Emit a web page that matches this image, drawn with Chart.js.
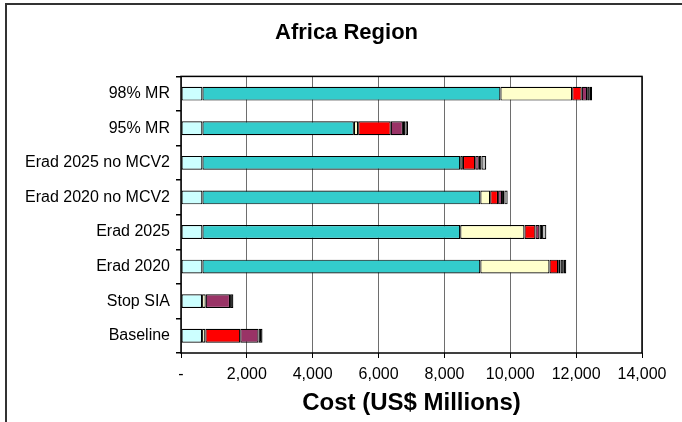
<!DOCTYPE html>
<html>
<head>
<meta charset="utf-8">
<script src="https://cdn.jsdelivr.net/npm/chart.js@4"></script>
<style>
  body { margin: 0; background: #fff; }
  canvas { display: block; }
</style>
</head>
<body>
<canvas id="chart" width="682" height="422"></canvas>
<script>
// Scénarios (de haut en bas)
const scenarios = ['98% MR', '95% MR', 'Erad 2025 no MCV2', 'Erad 2020 no MCV2', 'Erad 2025', 'Erad 2020', 'Stop SIA', 'Baseline'];

// Coûts par composante (US$ millions)
const costCyan   = [650, 650, 650, 650, 650, 650, 640, 640];
const costTeal   = [9050, 4600, 7830, 8440, 7830, 8440, null, null];
const costYellow = [2180, 130, 80, 300, 1950, 2100, 110, 100];
const costRed    = [290, 990, 375, 240, 335, 265, null, 1060];
const costPurple = [165, 370, 110, 120, 120, 70, 740, 555];
const costBlack  = [80, 75, 80, 70, 80, 100, 100, 120];
const costGrey   = [70, 80, 145, 100, 130, 75, null, null];

const xTicks = [0, 2000, 4000, 6000, 8000, 10000, 12000, 14000];

const FONT = "'Liberation Sans', Arial, sans-serif";

function seg(data, color) {
    return {
        data: data,
        backgroundColor: color,
        borderColor: '#000',
        borderWidth: 1.2,
        borderSkipped: false,
        categoryPercentage: 0.4,
        barPercentage: 1
    };
}

// cadre extérieur + bordure de la zone de tracé
const framePlugin = {
    id: 'frame',
    beforeDraw(chart) {
        const ctx = chart.ctx;
        ctx.save();
        ctx.strokeStyle = '#333';
        ctx.lineWidth = 2;
        ctx.beginPath();
        ctx.moveTo(682, 4);
        ctx.lineTo(6, 4);
        ctx.lineTo(6, 422);
        ctx.stroke();
        ctx.restore();
    },
    afterDraw(chart) {
        const a = chart.chartArea;
        const ctx = chart.ctx;
        ctx.save();
        ctx.strokeStyle = '#000';
        ctx.lineWidth = 1.5;
        ctx.strokeRect(a.left, a.top, a.right - a.left, a.bottom - a.top);
        ctx.restore();
    }
};

new Chart(document.getElementById('chart'), {
    type: 'bar',
    data: {
        labels: scenarios,
        datasets: [
            seg(costCyan, '#CCFFFF'),
            seg(costTeal, '#33CCCC'),
            seg(costYellow, '#FFFFCC'),
            seg(costRed, '#FF0000'),
            seg(costPurple, '#993366'),
            seg(costBlack, '#000000'),
            seg(costGrey, '#C0C0C0')
        ]
    },
    options: {
        indexAxis: 'y',
        responsive: false,
        animation: false,
        layout: { padding: { left: 11, right: 0, top: 0, bottom: 0 } },
        plugins: {
            legend: { display: false },
            tooltip: { enabled: false },
            title: {
                display: true,
                text: 'Africa Region',
                color: '#000',
                font: { family: FONT, size: 22, weight: 'bold' },
                padding: { top: 20, bottom: 30 }
            }
        },
        scales: {
            x: {
                stacked: true,
                min: 0,
                max: 14000,
                afterBuildTicks: (scale) => { scale.ticks = xTicks.map(v => ({ value: v })); },
                afterFit: (scale) => { scale.height = 69; },
                ticks: {
                    color: '#000',
                    padding: 7,
                    font: { family: FONT, size: 16 },
                    callback: (v) => v === 0 ? '-' : v.toLocaleString('en-US')
                },
                grid: { color: '#6e6e6e', lineWidth: 1, tickLength: 5, tickColor: '#000' },
                border: { display: false },
                title: {
                    display: true,
                    text: 'Cost (US$ Millions)',
                    color: '#000',
                    font: { family: FONT, size: 24, weight: 'bold' },
                    padding: { top: 0, bottom: 4 }
                }
            },
            y: {
                stacked: true,
                afterFit: (scale) => { scale.width = 170; },
                ticks: {
                    color: '#000',
                    padding: 6,
                    font: { family: FONT, size: 16 }
                },
                grid: { drawOnChartArea: false, offset: true, tickLength: 5, tickColor: '#000', lineWidth: 1.5 },
                border: { display: false }
            },
            // marge droite vide (comme dans l'original)
            yRight: {
                type: 'linear',
                position: 'right',
                display: true,
                afterFit: (scale) => { scale.width = 40; },
                ticks: { display: false },
                grid: { display: false },
                border: { display: false }
            }
        }
    },
    plugins: [framePlugin]
});
</script>
</body>
</html>
